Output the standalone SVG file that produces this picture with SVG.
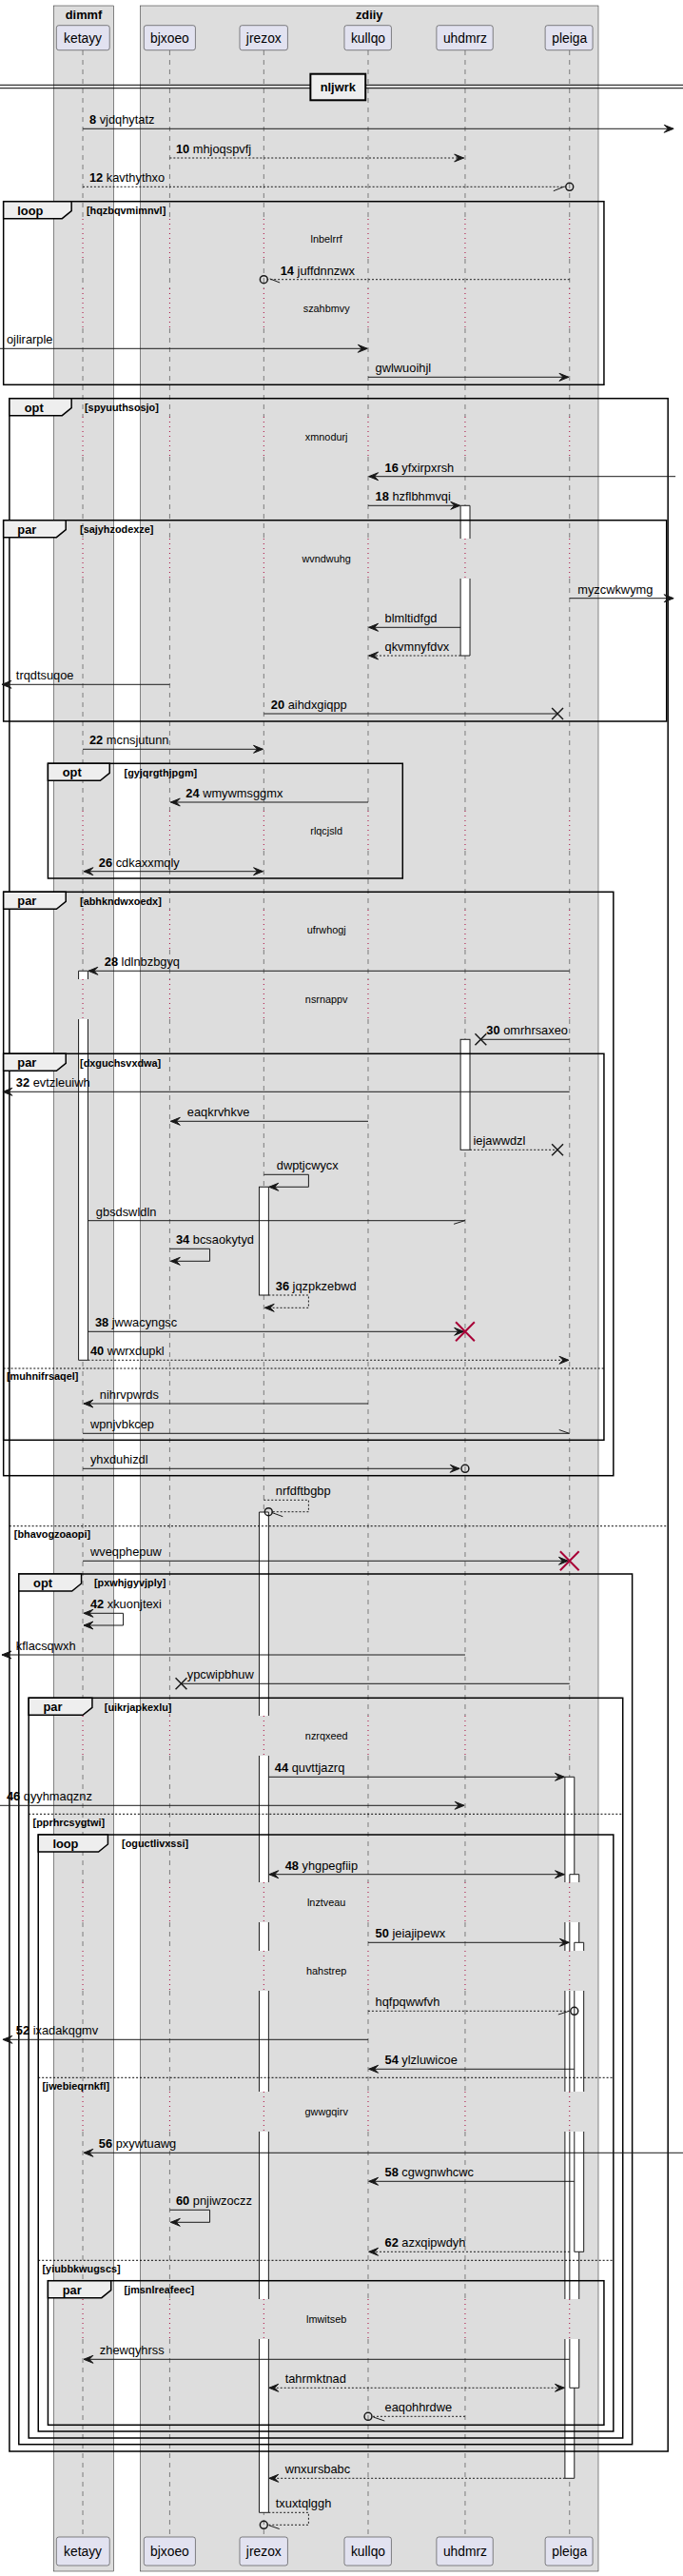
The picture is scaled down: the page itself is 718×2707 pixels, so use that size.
<svg xmlns="http://www.w3.org/2000/svg" xmlns:xlink="http://www.w3.org/1999/xlink" width="718" height="2707" viewBox="0 0 718 2707">
<style>
text{font-family:"Liberation Sans",Arial,sans-serif;fill:#000}
.box{fill:#DDDDDD;stroke:#181818;stroke-width:0.5}
.part{fill:#E2E2F0;stroke:#181818;stroke-width:0.5}
.pt{font-size:14px;text-anchor:middle}
.bt{font-size:13px;font-weight:bold;text-anchor:middle}
.life{stroke:#181818;stroke-width:0.5;stroke-dasharray:5,5;fill:none}
.dly{stroke:#A80036;stroke-width:1;stroke-dasharray:1,4;fill:none}
.msg{stroke:#181818;stroke-width:1;fill:none}
.dash{stroke-dasharray:2,2}
.ml{font-size:13px}
.num{font-weight:bold}
.dt{font-size:11px;text-anchor:middle}
.fr{fill:none;stroke:#000;stroke-width:1.5}
.tab{fill:#EEEEEE;stroke:#000;stroke-width:1.5}
.tt{font-size:13px;font-weight:bold}
.ct{font-size:11px;font-weight:bold}
.sep{stroke:#000;stroke-width:1;stroke-dasharray:2,2}
.actf{fill:#FFFFFF;stroke:none}
.acts{fill:none;stroke:#181818;stroke-width:1}
.act{fill:#FFFFFF;stroke:#181818;stroke-width:1}
.x{stroke:#181818;stroke-width:1.5}
.rx{stroke:#A80036;stroke-width:2}
.circ{fill:none;stroke:#181818;stroke-width:1.5}
.hs{stroke:#181818;stroke-width:1}
</style>
<defs>
<marker id="ah" viewBox="-11 -5 12 10" refX="0" refY="0" markerWidth="12" markerHeight="10" markerUnits="userSpaceOnUse" orient="auto-start-reverse"><path d="M-10,-4 L0,0 L-10,4 L-6,0 Z" fill="#181818" stroke="#181818" stroke-width="1"/></marker>
<path id="ll" d="M0,53V230M0,272V303M0,345V438M0,480V566M0,608V852M0,894V956M0,998V1029M0,1071V1803M0,1845V1978M0,2020V2050M0,2092V2198M0,2240V2416M0,2458V2666"/>
<path id="dl" d="M0,230V272M0,303V345M0,438V480M0,566V608M0,852V894M0,956V998M0,1029V1071M0,1803V1845M0,1978V2020M0,2050V2092M0,2198V2240M0,2416V2458"/>
</defs>
<rect width="718" height="2707" fill="#FFFFFF"/>
<g transform="scale(0.989 1)">
<g id="box-dimmf"><rect class="box" x="57" y="6" width="64" height="2696"/><text class="bt" x="89" y="20">dimmf</text></g>
<g id="box-zdiiy"><rect class="box" x="149" y="6" width="487" height="2696"/><text class="bt" x="392.5" y="20">zdiiy</text></g>
<g id="lifelines">
<use href="#ll" x="88" class="life"/><use href="#dl" x="88" class="dly"/>
<use href="#ll" x="180.4" class="life"/><use href="#dl" x="180.4" class="dly"/>
<use href="#ll" x="280.4" class="life"/><use href="#dl" x="280.4" class="dly"/>
<use href="#ll" x="391.3" class="life"/><use href="#dl" x="391.3" class="dly"/>
<use href="#ll" x="494.4" class="life"/><use href="#dl" x="494.4" class="dly"/>
<use href="#ll" x="605.4" class="life"/><use href="#dl" x="605.4" class="dly"/>
</g>
<g id="ketayy"><rect class="part" x="60" y="26.7" width="56.5" height="26" rx="2.5"/><text class="pt" x="88" y="45">ketayy</text><rect class="part" x="60" y="2666" width="56.5" height="30" rx="2.5"/><text class="pt" x="88" y="2686">ketayy</text></g>
<g id="bjxoeo"><rect class="part" x="153" y="26.7" width="54.7" height="26" rx="2.5"/><text class="pt" x="180.4" y="45">bjxoeo</text><rect class="part" x="153" y="2666" width="54.7" height="30" rx="2.5"/><text class="pt" x="180.4" y="2686">bjxoeo</text></g>
<g id="jrezox"><rect class="part" x="254.8" y="26.7" width="51" height="26" rx="2.5"/><text class="pt" x="280.4" y="45">jrezox</text><rect class="part" x="254.8" y="2666" width="51" height="30" rx="2.5"/><text class="pt" x="280.4" y="2686">jrezox</text></g>
<g id="kullqo"><rect class="part" x="366" y="26.7" width="50" height="26" rx="2.5"/><text class="pt" x="391.3" y="45">kullqo</text><rect class="part" x="366" y="2666" width="50" height="30" rx="2.5"/><text class="pt" x="391.3" y="2686">kullqo</text></g>
<g id="uhdmrz"><rect class="part" x="464" y="26.7" width="60" height="26" rx="2.5"/><text class="pt" x="494.4" y="45">uhdmrz</text><rect class="part" x="464" y="2666" width="60" height="30" rx="2.5"/><text class="pt" x="494.4" y="2686">uhdmrz</text></g>
<g id="pleiga"><rect class="part" x="579.5" y="26.7" width="50.5" height="26" rx="2.5"/><text class="pt" x="605.4" y="45">pleiga</text><rect class="part" x="579.5" y="2666" width="50.5" height="30" rx="2.5"/><text class="pt" x="605.4" y="2686">pleiga</text></g>
<g id="activations">
<rect class="actf" x="489.5" y="531.3" width="10" height="34.7"/><path class="acts" d="M489.5,566V531.3H499.5V566"/>
<rect class="actf" x="489.5" y="608" width="10" height="81"/><path class="acts" d="M489.5,608V689H499.5V608"/>
<rect class="act" x="489.5" y="1092.3" width="10" height="116"/>
<rect class="actf" x="83.5" y="1020.3" width="10" height="8.7"/><path class="acts" d="M83.5,1029V1020.3H93.5V1029"/>
<rect class="actf" x="83.5" y="1071" width="10" height="358.3"/><path class="acts" d="M83.5,1071V1429.3H93.5V1071"/>
<rect class="act" x="275.5" y="1247.3" width="10" height="113.7"/>
<rect class="actf" x="275.5" y="1589" width="10" height="214"/><path class="acts" d="M275.5,1803V1589H285.5V1803"/>
<rect class="actf" x="275.5" y="1845" width="10" height="133"/><path class="acts" d="M275.5,1845V1978M285.5,1845V1978"/>
<rect class="actf" x="275.5" y="2020" width="10" height="30"/><path class="acts" d="M275.5,2020V2050M285.5,2020V2050"/>
<rect class="actf" x="275.5" y="2092" width="10" height="106"/><path class="acts" d="M275.5,2092V2198M285.5,2092V2198"/>
<rect class="actf" x="275.5" y="2240" width="10" height="176"/><path class="acts" d="M275.5,2240V2416M285.5,2240V2416"/>
<rect class="actf" x="275.5" y="2458" width="10" height="182.3"/><path class="acts" d="M275.5,2458V2640.3H285.5V2458"/>
<rect class="actf" x="600.5" y="1867.3" width="10" height="110.7"/><path class="acts" d="M600.5,1978V1867.3H610.5V1978"/>
<rect class="actf" x="600.5" y="2020" width="10" height="30"/><path class="acts" d="M600.5,2020V2050M610.5,2020V2050"/>
<rect class="actf" x="600.5" y="2092" width="10" height="106"/><path class="acts" d="M600.5,2092V2198M610.5,2092V2198"/>
<rect class="actf" x="600.5" y="2240" width="10" height="176"/><path class="acts" d="M600.5,2240V2416M610.5,2240V2416"/>
<rect class="actf" x="600.5" y="2458" width="10" height="146.3"/><path class="acts" d="M600.5,2458V2604.3H610.5V2458"/>
<rect class="actf" x="605.5" y="1969.7" width="10" height="8.3"/><path class="acts" d="M605.5,1978V1969.7H615.5V1978"/>
<rect class="actf" x="605.5" y="2020" width="10" height="30"/><path class="acts" d="M605.5,2020V2050M615.5,2020V2050"/>
<rect class="actf" x="605.5" y="2092" width="10" height="106"/><path class="acts" d="M605.5,2092V2198M615.5,2092V2198"/>
<rect class="actf" x="605.5" y="2240" width="10" height="176"/><path class="acts" d="M605.5,2240V2416M615.5,2240V2416"/>
<rect class="actf" x="605.5" y="2458" width="10" height="51.3"/><path class="acts" d="M605.5,2458V2509.3H615.5V2458"/>
<rect class="actf" x="610.5" y="2041.3" width="10" height="8.7"/><path class="acts" d="M610.5,2050V2041.3H620.5V2050"/>
<rect class="actf" x="610.5" y="2092" width="10" height="106"/><path class="acts" d="M610.5,2092V2198M620.5,2092V2198"/>
<rect class="actf" x="610.5" y="2240" width="10" height="126.3"/><path class="acts" d="M610.5,2240V2366.3H620.5V2240"/>
</g>
<g id="divider">
<path d="M0,89.3H726M0,92.7H726" stroke="#000" stroke-width="1"/>
<rect x="330" y="77.7" width="58.5" height="27.6" fill="#EEEEEE" stroke="#000" stroke-width="2"/>
<text class="bt" x="359.2" y="96">nljwrk</text>
</g>
<g id="delays">
<text class="dt" x="347" y="255">lnbelrrf</text>
<text class="dt" x="347" y="328">szahbmvy</text>
<text class="dt" x="347" y="462.7">xmnodurj</text>
<text class="dt" x="347" y="590.7">wvndwuhg</text>
<text class="dt" x="347" y="877">rlqcjsld</text>
<text class="dt" x="347" y="980.7">ufrwhogj</text>
<text class="dt" x="347" y="1053.7">nsrnappv</text>
<text class="dt" x="347" y="1828">nzrqxeed</text>
<text class="dt" x="347" y="2002.7">lnztveau</text>
<text class="dt" x="347" y="2074.7">hahstrep</text>
<text class="dt" x="347" y="2223">gwwgqirv</text>
<text class="dt" x="347" y="2440.7">lmwitseb</text>
</g>
<g id="frames">
<rect class="fr" x="3.7" y="211.7" width="638.3" height="192.6"/><path class="tab" d="M3.7,211.7H76V221.7L66,229.7H3.7Z"/><text class="tt" x="18.5" y="225.7">loop</text><text class="ct" x="92" y="225.2">[hqzbqvmimnvl]</text>
<rect class="fr" x="10" y="418.7" width="700" height="2157.3"/><path class="tab" d="M10,418.7H76V428.7L66,436.7H10Z"/><text class="tt" x="26" y="432.7">opt</text><text class="ct" x="90" y="432.2">[spyuuthsosjo]</text>
<line class="sep" x1="10" y1="1603.7" x2="710" y2="1603.7"/><text class="ct" x="15" y="1616.2">[bhavogzoaopi]</text>
<rect class="fr" x="3.7" y="546.7" width="704.8" height="211.3"/><path class="tab" d="M3.7,546.7H70V556.7L60,564.7H3.7Z"/><text class="tt" x="18.5" y="560.7">par</text><text class="ct" x="85" y="560.2">[sajyhzodexze]</text>
<rect class="fr" x="51" y="802.3" width="377" height="120.7"/><path class="tab" d="M51,802.3H116.5V812.3L106.5,820.3H51Z"/><text class="tt" x="66.5" y="816.3">opt</text><text class="ct" x="132" y="815.8">[gyjqrgthjpgm]</text>
<rect class="fr" x="3.7" y="937.3" width="648.3" height="613.4"/><path class="tab" d="M3.7,937.3H70V947.3L60,955.3H3.7Z"/><text class="tt" x="18.5" y="951.3">par</text><text class="ct" x="85" y="950.8">[abhkndwxoedx]</text>
<rect class="fr" x="3.7" y="1107.3" width="638.3" height="406"/><path class="tab" d="M3.7,1107.3H70V1117.3L60,1125.3H3.7Z"/><text class="tt" x="18.5" y="1121.3">par</text><text class="ct" x="85" y="1120.8">[dxguchsvxdwa]</text>
<line class="sep" x1="3.7" y1="1438" x2="642" y2="1438"/><text class="ct" x="7" y="1450.5">[muhnifrsaqel]</text>
<rect class="fr" x="20" y="1654" width="652" height="914.7"/><path class="tab" d="M20,1654H86.5V1664L76.5,1672H20Z"/><text class="tt" x="35.5" y="1668">opt</text><text class="ct" x="100" y="1667.5">[pxwhjgyvjply]</text>
<rect class="fr" x="30.5" y="1784.3" width="631.5" height="777.7"/><path class="tab" d="M30.5,1784.3H98V1794.3L88,1802.3H30.5Z"/><text class="tt" x="46" y="1798.3">par</text><text class="ct" x="111" y="1797.8">[uikrjapkexlu]</text>
<line class="sep" x1="30.5" y1="1906.3" x2="662" y2="1906.3"/><text class="ct" x="35" y="1918.8">[pprhrcsygtwi]</text>
<rect class="fr" x="40.7" y="1928" width="611.3" height="627"/><path class="tab" d="M40.7,1928H114.7V1938L104.7,1946H40.7Z"/><text class="tt" x="56" y="1942">loop</text><text class="ct" x="129.5" y="1941.5">[oguctlivxssi]</text>
<line class="sep" x1="40.7" y1="2183.3" x2="652" y2="2183.3"/><text class="ct" x="45" y="2195.8">[jwebieqrnkfl]</text>
<line class="sep" x1="40.7" y1="2375.3" x2="652" y2="2375.3"/><text class="ct" x="45" y="2387.8">[yiubbkwugscs]</text>
<rect class="fr" x="51" y="2396.7" width="591" height="151.6"/><path class="tab" d="M51,2396.7H118V2406.7L108,2414.7H51Z"/><text class="tt" x="66.5" y="2410.7">par</text><text class="ct" x="132" y="2410.2">[jmsnlreafeec]</text>
</g>
<g id="connectors">
<path class="msg" d="M88,135.3H716" marker-end="url(#ah)"/><text class="ml" x="95" y="130.5"><tspan class="num">8</tspan> vjdqhytatz</text>
<path class="msg dash" d="M180.4,166H493" marker-end="url(#ah)"/><text class="ml" x="187" y="161"><tspan class="num">10</tspan> mhjoqspvfj</text>
<path class="msg dash" d="M88,196.3H601"/><line class="hs" x1="588.3" y1="200.7" x2="600" y2="196"/><circle class="circ" cx="605.4" cy="196.3" r="4"/><text class="ml" x="95" y="191.3"><tspan class="num">12</tspan> kavthythxo</text>
<path class="msg dash" d="M605.4,293.7H284.4"/><line class="hs" x1="286.8" y1="292.9" x2="297.4" y2="297"/><circle class="circ" cx="280.4" cy="293.7" r="4"/><text class="ml" x="298" y="288.7"><tspan class="num">14</tspan> juffdnnzwx</text>
<path class="msg" d="M0,366.3H390.5" marker-end="url(#ah)"/><text class="ml" x="7" y="361.3">ojlirarple</text>
<path class="msg" d="M391.3,396.3H604.5" marker-end="url(#ah)"/><text class="ml" x="399" y="391.3">gwlwuoihjl</text>
<path class="msg" d="M718,500.7H392" marker-end="url(#ah)"/><text class="ml" x="409" y="495.7"><tspan class="num">16</tspan> yfxirpxrsh</text>
<path class="msg" d="M391.3,531.3H489" marker-end="url(#ah)"/><text class="ml" x="399" y="526.3"><tspan class="num">18</tspan> hzflbhmvqi</text>
<path class="msg" d="M605.4,628.7H716" marker-end="url(#ah)"/><text class="ml" x="614" y="623.7">myzcwkwymg</text>
<path class="msg" d="M489.5,659.3H392" marker-end="url(#ah)"/><text class="ml" x="409" y="654.3">blmltidfgd</text>
<path class="msg dash" d="M489.5,689H392" marker-end="url(#ah)"/><text class="ml" x="409" y="684">qkvmnyfdvx</text>
<path class="msg" d="M180.4,719.3H2" marker-end="url(#ah)"/><text class="ml" x="17" y="714.3">trqdtsuqoe</text>
<path class="msg" d="M280.4,750H592.6"/><path class="x" d="M586.6,744L598.6,756M586.6,756L598.6,744"/><text class="ml" x="288" y="745"><tspan class="num">20</tspan> aihdxgiqpp</text>
<path class="msg" d="M88,787.3H279.5" marker-end="url(#ah)"/><text class="ml" x="95" y="782.3"><tspan class="num">22</tspan> mcnsjutunn</text>
<path class="msg" d="M391.3,843H181.4" marker-end="url(#ah)"/><text class="ml" x="197.5" y="838"><tspan class="num">24</tspan> wmywmsggmx</text>
<path class="msg" d="M89,915.7H279.5" marker-start="url(#ah)" marker-end="url(#ah)"/><text class="ml" x="105" y="910.7"><tspan class="num">26</tspan> cdkaxxmqly</text>
<path class="msg" d="M605.4,1020.3H94" marker-end="url(#ah)"/><text class="ml" x="111" y="1015.3"><tspan class="num">28</tspan> ldlnbzbgyq</text>
<path class="msg" d="M605.4,1092.3H511"/><path class="x" d="M505,1086.3L517,1098.3M505,1098.3L517,1086.3"/><text class="ml" x="517" y="1087.3"><tspan class="num">30</tspan> omrhrsaxeo</text>
<path class="msg" d="M605.4,1147.3H3" marker-end="url(#ah)"/><text class="ml" x="17" y="1142.3"><tspan class="num">32</tspan> evtzleuiwh</text>
<path class="msg" d="M391.3,1178.3H181.4" marker-end="url(#ah)"/><text class="ml" x="199" y="1173.3">eaqkrvhkve</text>
<path class="msg dash" d="M499.5,1208.3H592.6"/><path class="x" d="M586.6,1202.3L598.6,1214.3M586.6,1214.3L598.6,1202.3"/><text class="ml" x="503" y="1203.3">iejawwdzl</text>
<path class="msg" d="M280.4,1234.3H328V1247.3H286" marker-end="url(#ah)"/><text class="ml" x="294" y="1229.3">dwptjcwycx</text>
<path class="msg" d="M93.5,1282.7H494.4"/><line class="hs" x1="482.4" y1="1286.3" x2="494" y2="1282.7"/><text class="ml" x="102" y="1277.7">gbsdswldln</text>
<path class="msg" d="M180.4,1312.3H223V1325.3H181.4" marker-end="url(#ah)"/><text class="ml" x="187" y="1307.3"><tspan class="num">34</tspan> bcsaokytyd</text>
<path class="msg dash" d="M285.5,1361H328V1374.3H281.4" marker-end="url(#ah)"/><text class="ml" x="293" y="1356"><tspan class="num">36</tspan> jqzpkzebwd</text>
<path class="msg" d="M93.5,1399.3H493" marker-end="url(#ah)"/><path class="rx" d="M484.4,1389.3L504.4,1409.3M484.4,1409.3L504.4,1389.3"/><text class="ml" x="101" y="1394.3"><tspan class="num">38</tspan> jwwacyngsc</text>
<path class="msg dash" d="M93.5,1429.3H604.5" marker-end="url(#ah)"/><text class="ml" x="96" y="1424.3"><tspan class="num">40</tspan> wwrxdupkl</text>
<path class="msg" d="M391.3,1475H89" marker-end="url(#ah)"/><text class="ml" x="106" y="1470">nihrvpwrds</text>
<path class="msg" d="M88,1506.3H605.4"/><line class="hs" x1="594.3" y1="1502.5" x2="605" y2="1506.3"/><text class="ml" x="96" y="1501.3">wpnjvbkcep</text>
<path class="msg" d="M88,1543.3H488.5" marker-end="url(#ah)"/><circle class="circ" cx="494.4" cy="1543.3" r="4"/><text class="ml" x="96" y="1538.3">yhxduhizdl</text>
<path class="msg dash" d="M280.4,1576.3H328V1588.7H289.5"/><circle class="circ" cx="285.4" cy="1588.7" r="4"/><line class="hs" x1="289" y1="1589.5" x2="300.6" y2="1593.7"/><text class="ml" x="293" y="1571.3">nrfdftbgbp</text>
<path class="msg" d="M88,1640.3H604" marker-end="url(#ah)"/><path class="rx" d="M595.4,1630.3L615.4,1650.3M595.4,1650.3L615.4,1630.3"/><text class="ml" x="96" y="1635.3">wveqphepuw</text>
<path class="msg" d="M89,1695.3H131V1708H89" marker-start="url(#ah)" marker-end="url(#ah)"/><text class="ml" x="96" y="1690.3"><tspan class="num">42</tspan> xkuonjtexi</text>
<path class="msg" d="M494.4,1739H2" marker-end="url(#ah)"/><text class="ml" x="17" y="1734">kflacsqwxh</text>
<path class="msg" d="M605.4,1769.3H192.6"/><path class="x" d="M186.6,1763.3L198.6,1775.3M186.6,1775.3L198.6,1763.3"/><text class="ml" x="199" y="1764.3">ypcwipbhuw</text>
<path class="msg" d="M285.5,1867.3H600" marker-end="url(#ah)"/><text class="ml" x="292" y="1862.3"><tspan class="num">44</tspan> quvttjazrq</text>
<path class="msg" d="M0,1897.3H493.5" marker-end="url(#ah)"/><text class="ml" x="7" y="1892.3"><tspan class="num">46</tspan> qyyhmaqznz</text>
<path class="msg" d="M286,1969.7H600" marker-start="url(#ah)" marker-end="url(#ah)"/><text class="ml" x="303" y="1964.7"><tspan class="num">48</tspan> yhgpegfiip</text>
<path class="msg" d="M391.3,2041.3H605" marker-end="url(#ah)"/><text class="ml" x="399" y="2036.3"><tspan class="num">50</tspan> jeiajipewx</text>
<path class="msg dash" d="M391.3,2113.3H606.5"/><line class="hs" x1="593.4" y1="2117" x2="604.5" y2="2113.5"/><circle class="circ" cx="610.5" cy="2113.3" r="4"/><text class="ml" x="399" y="2108.3">hqfpqwwfvh</text>
<path class="msg" d="M391.3,2143.3H3" marker-end="url(#ah)"/><text class="ml" x="17" y="2138.3"><tspan class="num">52</tspan> ixadakqgmv</text>
<path class="msg" d="M610.5,2174.3H392" marker-end="url(#ah)"/><text class="ml" x="409" y="2169.3"><tspan class="num">54</tspan> ylzluwicoe</text>
<path class="msg" d="M726,2262.3H89" marker-end="url(#ah)"/><text class="ml" x="105" y="2257.3"><tspan class="num">56</tspan> pxywtuawg</text>
<path class="msg" d="M610.5,2292.3H392" marker-end="url(#ah)"/><text class="ml" x="409" y="2287.3"><tspan class="num">58</tspan> cgwgnwhcwc</text>
<path class="msg" d="M180.4,2322.3H223V2335.3H181.4" marker-end="url(#ah)"/><text class="ml" x="187" y="2317.3"><tspan class="num">60</tspan> pnjiwzoczz</text>
<path class="msg dash" d="M605.5,2366.3H392" marker-end="url(#ah)"/><text class="ml" x="409" y="2361.3"><tspan class="num">62</tspan> azxqipwdyh</text>
<path class="msg" d="M605.5,2479.3H89" marker-end="url(#ah)"/><text class="ml" x="106" y="2474.3">zhewqyhrss</text>
<path class="msg dash" d="M286,2509.3H600" marker-start="url(#ah)" marker-end="url(#ah)"/><text class="ml" x="303" y="2504.3">tahrmktnad</text>
<path class="msg dash" d="M494.4,2539.3H395.3"/><line class="hs" x1="396.8" y1="2540" x2="408.8" y2="2544"/><circle class="circ" cx="391.3" cy="2539.3" r="4"/><text class="ml" x="409" y="2534.3">eaqohhrdwe</text>
<path class="msg dash" d="M600.5,2604.3H286" marker-end="url(#ah)"/><text class="ml" x="303" y="2599.3">wnxursbabc</text>
<path class="msg dash" d="M285.5,2640.3H328V2653.3H284.4"/><circle class="circ" cx="280.4" cy="2653.3" r="4"/><line class="hs" x1="286" y1="2653.8" x2="297" y2="2657.5"/><text class="ml" x="293" y="2635.3">txuxtqlggh</text>
</g>
</g>
</svg>
